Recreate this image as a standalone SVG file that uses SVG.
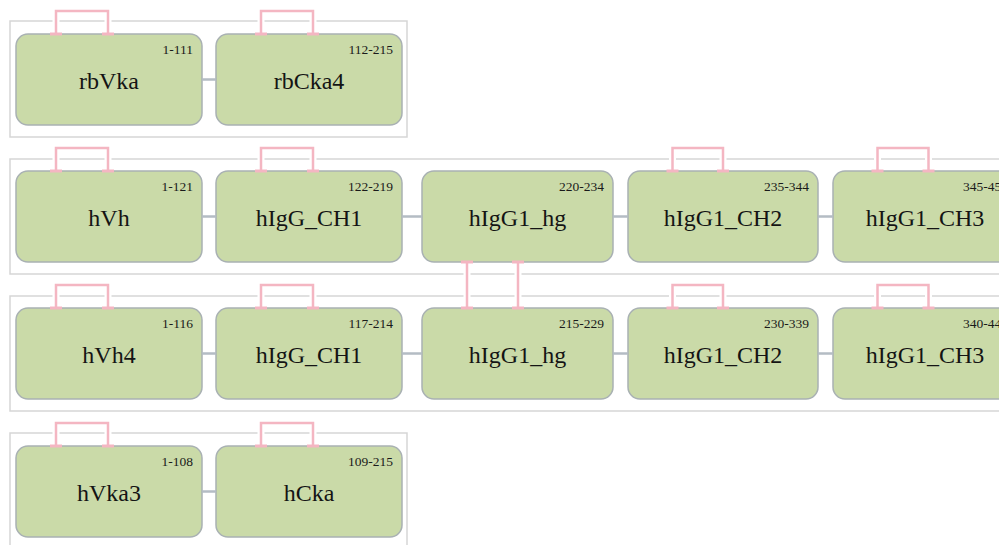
<svg xmlns="http://www.w3.org/2000/svg" width="999" height="545" viewBox="0 0 999 545">
<style>
.cont{fill:none;stroke:#d6d6d6;stroke-width:1.5}
.node rect{fill:#cadaa8;stroke:#a9b1b3;stroke-width:1.5}
.lbl{font-family:"Liberation Serif","Times New Roman",serif;font-size:24px;fill:#141414;text-anchor:middle}
.rng{font-family:"Liberation Serif","Times New Roman",serif;font-size:13.5px;fill:#1a1a1a;text-anchor:end}
.link{stroke:#b4bcc4;stroke-width:2.5;fill:none}
.halo{stroke:#ffffff;stroke-width:7;fill:none}
.bond{stroke:#f4b6c2;stroke-width:2.5;fill:none;marker-start:url(#tee);marker-end:url(#tee)}
</style>
<defs>
<marker id="tee" markerUnits="userSpaceOnUse" markerWidth="4" markerHeight="14" refX="2" refY="7" orient="auto">
<rect x="0.5" y="1" width="3" height="12" fill="#f4b6c2"/>
</marker>
</defs>
<rect width="999" height="545" fill="#ffffff"/>
<g id="containers">
<rect class="cont" x="10" y="21" width="397" height="116"/>
<rect class="cont" x="10" y="159" width="1010" height="115"/>
<rect class="cont" x="10" y="296" width="1010" height="115"/>
<rect class="cont" x="10" y="433" width="397" height="120"/>
</g>
<g id="n_rbVka" class="node"><rect x="16" y="34" width="186" height="91" rx="12"/><text class="rng" x="193" y="53.5">1-111</text><text class="lbl" x="109" y="88.5">rbVka</text></g>
<g id="n_rbCka4" class="node"><rect x="216" y="34" width="186" height="91" rx="12"/><text class="rng" x="393" y="53.5">112-215</text><text class="lbl" x="309" y="88.5">rbCka4</text></g>
<g id="n_hVh" class="node"><rect x="16" y="171" width="186" height="91" rx="12"/><text class="rng" x="193" y="190.5">1-121</text><text class="lbl" x="109" y="225.5">hVh</text></g>
<g id="n_hIgG_CH1_a" class="node"><rect x="216" y="171" width="186" height="91" rx="12"/><text class="rng" x="393" y="190.5">122-219</text><text class="lbl" x="309" y="225.5">hIgG_CH1</text></g>
<g id="n_hIgG1_hg_a" class="node"><rect x="422" y="171" width="191" height="91" rx="12"/><text class="rng" x="604" y="190.5">220-234</text><text class="lbl" x="517.5" y="225.5">hIgG1_hg</text></g>
<g id="n_hIgG1_CH2_a" class="node"><rect x="628" y="171" width="190" height="91" rx="12"/><text class="rng" x="809" y="190.5">235-344</text><text class="lbl" x="723" y="225.5">hIgG1_CH2</text></g>
<g id="n_hIgG1_CH3_a" class="node"><rect x="833" y="171" width="184" height="91" rx="12"/><text class="rng" x="1008" y="190.5">345-451</text><text class="lbl" x="925" y="225.5">hIgG1_CH3</text></g>
<g id="n_hVh4" class="node"><rect x="16" y="308" width="186" height="91" rx="12"/><text class="rng" x="193" y="327.5">1-116</text><text class="lbl" x="109" y="362.5">hVh4</text></g>
<g id="n_hIgG_CH1_b" class="node"><rect x="216" y="308" width="186" height="91" rx="12"/><text class="rng" x="393" y="327.5">117-214</text><text class="lbl" x="309" y="362.5">hIgG_CH1</text></g>
<g id="n_hIgG1_hg_b" class="node"><rect x="422" y="308" width="191" height="91" rx="12"/><text class="rng" x="604" y="327.5">215-229</text><text class="lbl" x="517.5" y="362.5">hIgG1_hg</text></g>
<g id="n_hIgG1_CH2_b" class="node"><rect x="628" y="308" width="190" height="91" rx="12"/><text class="rng" x="809" y="327.5">230-339</text><text class="lbl" x="723" y="362.5">hIgG1_CH2</text></g>
<g id="n_hIgG1_CH3_b" class="node"><rect x="833" y="308" width="184" height="91" rx="12"/><text class="rng" x="1008" y="327.5">340-446</text><text class="lbl" x="925" y="362.5">hIgG1_CH3</text></g>
<g id="n_hVka3" class="node"><rect x="16" y="446" width="186" height="91" rx="12"/><text class="rng" x="193" y="465.5">1-108</text><text class="lbl" x="109" y="500.5">hVka3</text></g>
<g id="n_hCka" class="node"><rect x="216" y="446" width="186" height="91" rx="12"/><text class="rng" x="393" y="465.5">109-215</text><text class="lbl" x="309" y="500.5">hCka</text></g>
<g id="connectors">
<path class="link" d="M202,79.5H216M202,216.5H216M402,216.5H422M613,216.5H628M818,216.5H833M202,353.5H216M402,353.5H422M613,353.5H628M818,353.5H833M202,491.5H216"/>
<path class="halo" d="M56,30V14M108,30V14M261,30V14M313,30V14"/>
<path class="bond" d="M56,34V11H108V34"/>
<path class="bond" d="M261,34V11H313V34"/>
<path class="halo" d="M56,167V151M108,167V151M261,167V151M313,167V151M672.5,167V151M723,167V151M877.5,167V151M928.5,167V151"/>
<path class="bond" d="M56,171V148H108V171"/>
<path class="bond" d="M261,171V148H313V171"/>
<path class="bond" d="M672.5,171V148H723V171"/>
<path class="bond" d="M877.5,171V148H928.5V171"/>
<path class="halo" d="M56,304V288M108,304V288M261,304V288M313,304V288M672.5,304V288M723,304V288M877.5,304V288M928.5,304V288"/>
<path class="bond" d="M56,308V285H108V308"/>
<path class="bond" d="M261,308V285H313V308"/>
<path class="bond" d="M672.5,308V285H723V308"/>
<path class="bond" d="M877.5,308V285H928.5V308"/>
<path class="halo" d="M56,442V426M108,442V426M261,442V426M313,442V426"/>
<path class="bond" d="M56,446V423H108V446"/>
<path class="bond" d="M261,446V423H313V446"/>
<path class="halo" d="M467,266V304M518,266V304"/>
<path class="bond" d="M467,262V308"/>
<path class="bond" d="M518,262V308"/>
</g>
</svg>
